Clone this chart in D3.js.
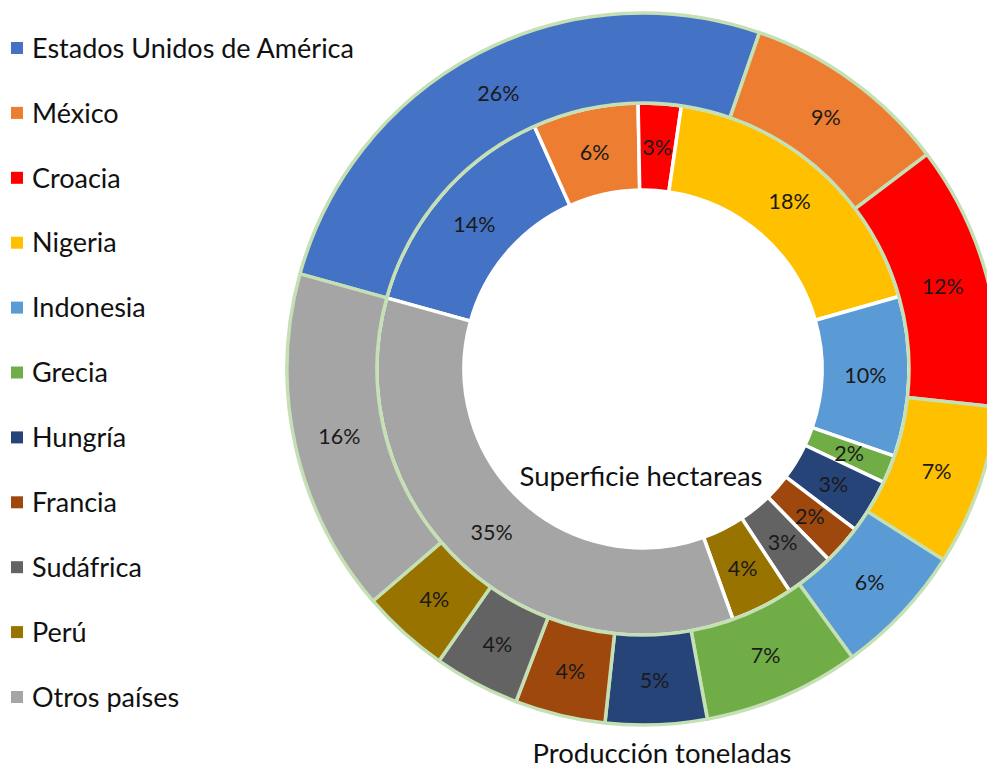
<!DOCTYPE html>
<html>
<head>
<meta charset="utf-8">
<script src="https://cdnjs.cloudflare.com/ajax/libs/d3/7.8.5/d3.min.js"></script>
<style>
  body { margin: 0; background: #fff; }
  text { font-family: Lato, 'Open Sans', sans-serif; }
</style>
</head>
<body>
<div id="container"></div>
<script>
// Data
const countries = [
  'Estados Unidos de América', 'México', 'Croacia', 'Nigeria', 'Indonesia',
  'Grecia', 'Hungría', 'Francia', 'Sudáfrica', 'Perú', 'Otros países'
];
const produccion = [26.0, 9.4, 12.0, 7.3, 6.0, 7.1, 4.6, 4.1, 3.9, 4.0, 15.6];
const superficie = [14.0, 6.4, 2.6, 18.3, 9.7, 1.7, 3.3, 2.4, 3.0, 3.8, 34.8];
const colors = [
  '#4472C4', '#ED7D31', '#FF0000', '#FFC000', '#5B9BD5',
  '#70AD47', '#264478', '#9E480E', '#636363', '#997300', '#A5A5A5'
];

const svgWidth = 987;
const svgHeight = 770;
const cx = 643;
const cy = 369;
const rOuter = 356;
const rMid = 266;
const rHole = 179;
const startDeg = -74.5;

const svg = d3
  .select('#container')
  .append('svg')
  .attr('width', svgWidth)
  .attr('height', svgHeight);

const color = d3.scaleOrdinal().domain(countries).range(colors);
const pct = d3.format('.0%');

const pie = d3
  .pie()
  .sort(null)
  .value(d => d.value)
  .startAngle((startDeg * Math.PI) / 180)
  .endAngle((startDeg * Math.PI) / 180 + 2 * Math.PI);

const chart = svg.append('g').attr('transform', `translate(${cx}, ${cy})`);

const drawRing = (values, r0, r1, stroke) => {
  const total = d3.sum(values);
  const rows = values.map((v, i) => ({ name: countries[i], value: v }));
  const arc = d3.arc().innerRadius(r0).outerRadius(r1);
  const g = chart.append('g');
  const arcs = pie(rows);

  g.selectAll('path')
    .data(arcs)
    .enter()
    .append('path')
    .attr('d', arc)
    .attr('fill', d => color(d.data.name))
    .attr('stroke', stroke)
    .attr('stroke-width', 3.5)
    .attr('stroke-linejoin', 'round');

  g.selectAll('text')
    .data(arcs)
    .enter()
    .append('text')
    .attr('transform', d => `translate(${arc.centroid(d)})`)
    .attr('text-anchor', 'middle')
    .attr('dy', '0.36em')
    .attr('font-size', 21.5)
    .attr('fill', '#1a1a1a')
    .text(d => pct(d.data.value / total));
};

// inner ring first so the green outline of the outer ring sits on top
drawRing(superficie, rHole, rMid, '#fff');
drawRing(produccion, rMid, rOuter, '#C5E0B4');

// ring titles
svg
  .append('text')
  .attr('x', 641)
  .attr('y', 486)
  .attr('text-anchor', 'middle')
  .attr('font-size', 27.5)
  .attr('fill', '#111')
  .text('Superficie hectareas');

svg
  .append('text')
  .attr('x', 662)
  .attr('y', 763)
  .attr('text-anchor', 'middle')
  .attr('font-size', 27.5)
  .attr('fill', '#111')
  .text('Producción toneladas');

// legend
const legend = svg
  .selectAll('.legend')
  .data(countries)
  .enter()
  .append('g')
  .attr('class', 'legend')
  .attr('transform', (d, i) => `translate(11, ${48 + i * 64.9})`);

legend
  .append('rect')
  .attr('x', 0)
  .attr('y', -6)
  .attr('width', 12)
  .attr('height', 12)
  .attr('fill', d => color(d));

legend
  .append('text')
  .attr('x', 21)
  .attr('dy', '0.36em')
  .attr('font-size', 27)
  .attr('fill', '#111')
  .text(d => d);
</script>
</body>
</html>
